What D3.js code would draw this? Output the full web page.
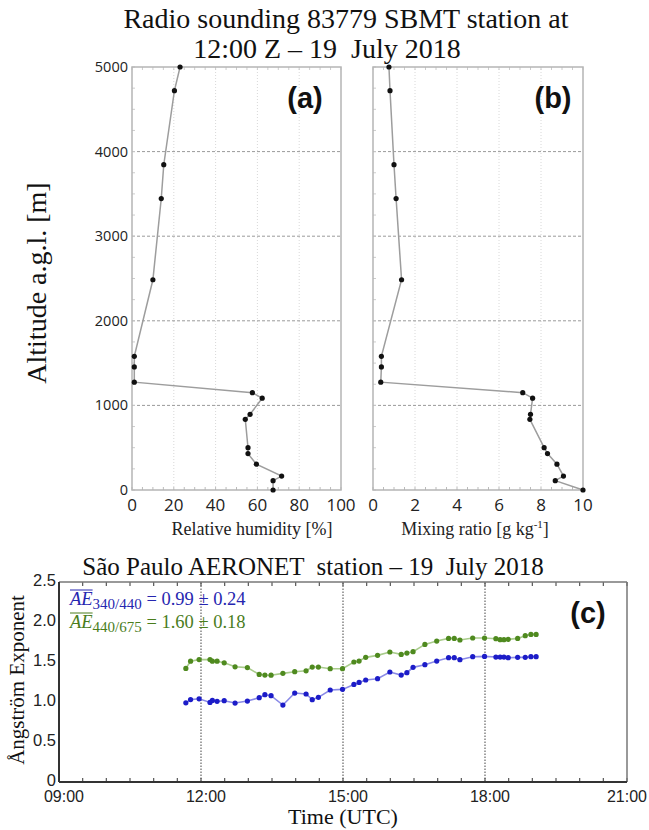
<!DOCTYPE html>
<html><head><meta charset="utf-8">
<script src="https://cdn.jsdelivr.net/npm/d3@7"></script>
<style>
body{margin:0;background:#fff;}
svg{display:block;}
text{white-space:pre;}
</style></head>
<body>
<svg id="c" width="649" height="830"></svg>
<script>
// ---------- DATA ----------
const altitude = [0, 110, 165, 305, 430, 500, 835, 895, 1085, 1150, 1275, 1455, 1580, 2485, 3445, 3845, 4720, 5000];
const relHumidity = [67.5, 67.5, 71.6, 59.5, 55.5, 55.5, 54.2, 56.5, 62.3, 57.6, 1.1, 1.1, 1.1, 10.0, 14.0, 15.2, 20.3, 23.0];
const mixingRatio = [10.0, 8.68, 9.07, 8.76, 8.31, 8.15, 7.47, 7.5, 7.6, 7.13, 0.37, 0.4, 0.4, 1.36, 1.1, 1.0, 0.81, 0.76];
const altTicks = [0, 1000, 2000, 3000, 4000, 5000];
const rhTicks = [0, 20, 40, 60, 80, 100];
const mrTicks = [0, 2, 4, 6, 8, 10];

const timeUTC = [11.68, 11.78, 11.96, 12.19, 12.24, 12.34, 12.49, 12.72, 12.98, 13.23, 13.35, 13.48, 13.73, 13.98, 14.22, 14.35, 14.48, 14.73, 14.99, 15.23, 15.34, 15.48, 15.73, 15.99, 16.23, 16.35, 16.48, 16.73, 16.98, 17.23, 17.35, 17.47, 17.74, 17.99, 18.23, 18.32, 18.40, 18.49, 18.69, 18.85, 18.97, 19.08];
const ae440_675 = [1.42, 1.51, 1.53, 1.53, 1.51, 1.51, 1.49, 1.44, 1.43, 1.345, 1.337, 1.335, 1.358, 1.379, 1.39, 1.437, 1.437, 1.416, 1.416, 1.50, 1.512, 1.558, 1.583, 1.625, 1.595, 1.612, 1.629, 1.72, 1.762, 1.795, 1.795, 1.775, 1.80, 1.80, 1.791, 1.779, 1.779, 1.783, 1.795, 1.829, 1.845, 1.845];
const ae340_440 = [0.99, 1.03, 1.04, 0.995, 1.02, 1.008, 1.016, 0.987, 1.012, 1.054, 1.091, 1.079, 0.962, 1.112, 1.10, 1.029, 1.058, 1.15, 1.158, 1.22, 1.245, 1.275, 1.291, 1.375, 1.337, 1.366, 1.433, 1.466, 1.512, 1.554, 1.554, 1.529, 1.566, 1.57, 1.562, 1.562, 1.562, 1.554, 1.558, 1.558, 1.566, 1.566];
const timeTicks = [9, 12, 15, 18, 21];
const timeTickLabels = ["09:00", "12:00", "15:00", "18:00", "21:00"];
const aeTicks = [0, 0.5, 1.0, 1.5, 2.0, 2.5];
const aeTickLabels = ["0", "0.5", "1.0", "1.5", "2.0", "2.5"];
const meanLabels = [
  {sub: "340/440", txt: " = 0.99 ± 0.24"},
  {sub: "440/675", txt: " = 1.60 ± 0.18"}
];

// ---------- DRAW ----------
const svg = d3.select("#c");
svg.append("rect").attr("width",649).attr("height",830).attr("fill","#fff");
const SANS = "'Open Sans', 'Noto Sans', sans-serif";
const SANS2 = "'Liberation Sans', Arial, sans-serif";
const SERIF = "'Liberation Serif', 'Times New Roman', serif";

svg.append("text").attr("x",346).attr("y",28).attr("text-anchor","middle")
  .attr("font-family",SERIF).attr("font-size",28).attr("fill","#111")
  .text("Radio sounding 83779 SBMT station at");
svg.append("text").attr("x",327).attr("y",58).attr("text-anchor","middle")
  .attr("font-family",SERIF).attr("font-size",28).attr("fill","#111")
  .text("12:00 Z \u2013 19  July 2018");

const yAlt = d3.scaleLinear().domain([0,5000]).range([490,67]);

function profilePanel(xRange, xDomain, xTicks, values, minorStep, label, labelX, showY) {
  const x = d3.scaleLinear().domain(xDomain).range(xRange);
  const g = svg.append("g");
  g.selectAll(".vg").data(xTicks.slice(1,-1)).enter().append("line")
    .attr("x1",d=>x(d)).attr("x2",d=>x(d)).attr("y1",yAlt(0)).attr("y2",yAlt(5000))
    .attr("stroke","#d8d8d8").attr("stroke-width",1).attr("stroke-dasharray","1,2");
  g.selectAll(".hg").data(altTicks.slice(1,-1)).enter().append("line")
    .attr("x1",xRange[0]).attr("x2",xRange[1]).attr("y1",d=>yAlt(d)).attr("y2",d=>yAlt(d))
    .attr("stroke","#9a9a9a").attr("stroke-width",1).attr("stroke-dasharray","3,2");
  const minorX = d3.range(xDomain[0], xDomain[1]+1e-9, minorStep);
  g.selectAll(".mx").data(minorX).enter().append("line")
    .attr("x1",d=>x(d)).attr("x2",d=>x(d)).attr("y1",yAlt(0)).attr("y2",yAlt(0)-3)
    .attr("stroke","#bbb");
  g.selectAll(".mxt").data(minorX).enter().append("line")
    .attr("x1",d=>x(d)).attr("x2",d=>x(d)).attr("y1",yAlt(5000)).attr("y2",yAlt(5000)+3)
    .attr("stroke","#ccc");
  const minorY = d3.range(0, 5001, 250);
  g.selectAll(".my").data(minorY).enter().append("line")
    .attr("x1",xRange[0]).attr("x2",xRange[0]+3).attr("y1",d=>yAlt(d)).attr("y2",d=>yAlt(d))
    .attr("stroke","#ccc");
  g.append("rect").attr("x",xRange[0]).attr("y",yAlt(5000))
    .attr("width",xRange[1]-xRange[0]).attr("height",yAlt(0)-yAlt(5000))
    .attr("fill","none").attr("stroke","#b5b5b5").attr("stroke-width",1.5);
  g.selectAll(".xl").data(xTicks).enter().append("text")
    .attr("x",d=>x(d)).attr("y",511).attr("text-anchor","middle")
    .attr("font-family",SANS).attr("font-size",17).attr("fill","#222")
    .text(d=>d);
  if (showY) {
    g.selectAll(".yl").data(altTicks).enter().append("text")
      .attr("x",xRange[0]-4).attr("y",d=>yAlt(d)+5).attr("text-anchor","end")
      .attr("font-family",SANS).attr("font-size",14.5).attr("fill","#222")
      .text(d=>d);
  }
  const pts = altitude.map((a,i)=>[values[i],a]);
  g.append("path").datum(pts)
    .attr("d", d3.line().x(d=>x(d[0])).y(d=>yAlt(d[1])))
    .attr("fill","none").attr("stroke","#9d9d9d").attr("stroke-width",1.5);
  g.selectAll(".pt").data(pts).enter().append("circle")
    .attr("cx",d=>x(d[0])).attr("cy",d=>yAlt(d[1])).attr("r",2.6).attr("fill","#111");
  g.append("text").attr("x",labelX).attr("y",108).attr("text-anchor","middle")
    .attr("font-family",SANS2).attr("font-weight","bold")
    .attr("font-size",29).attr("fill","#111").text(label);
  return x;
}
profilePanel([132,341],[0,100],rhTicks,relHumidity,5,"(a)",305,true);
profilePanel([373,583],[0,10],mrTicks,mixingRatio,0.5,"(b)",553,false);

svg.append("text").attr("x",252).attr("y",535).attr("text-anchor","middle")
  .attr("font-family",SERIF).attr("font-size",18).attr("fill","#222").text("Relative humidity [%]");
const mt = svg.append("text").attr("x",475).attr("y",535).attr("text-anchor","middle")
  .attr("font-family",SERIF).attr("font-size",18).attr("fill","#222");
mt.append("tspan").text("Mixing ratio [g kg");
mt.append("tspan").attr("font-size",11).attr("dy",-7).text("-1");
mt.append("tspan").attr("dy",7).text("]");
svg.append("text").attr("transform","translate(46,283) rotate(-90)").attr("text-anchor","middle")
  .attr("font-family",SERIF).attr("font-size",28).attr("fill","#111").text("Altitude a.g.l. [m]");

// ---------- Panel c ----------
const xT = d3.scaleLinear().domain([9,21]).range([59,627]);
const yAE = d3.scaleLinear().domain([0,2.5]).range([782,582]);
const gc = svg.append("g");
svg.append("text").attr("x",313).attr("y",575).attr("text-anchor","middle")
  .attr("font-family",SERIF).attr("font-size",25).attr("fill","#111")
  .text("S\u00e3o Paulo AERONET  station \u2013 19  July 2018");

gc.selectAll(".vd").data(timeTicks.slice(1,-1)).enter().append("line")
  .attr("x1",d=>xT(d)).attr("x2",d=>xT(d)).attr("y1",yAE(0)).attr("y2",yAE(2.5))
  .attr("stroke","#444").attr("stroke-width",1).attr("stroke-dasharray","1.5,1.5");
const halfHours = d3.range(9, 21.001, 0.5);
gc.selectAll(".tb").data(halfHours).enter().append("line")
  .attr("x1",d=>xT(d)).attr("x2",d=>xT(d)).attr("y1",yAE(0)).attr("y2",yAE(0)-4)
  .attr("stroke","#555").attr("stroke-width",1.2);
gc.selectAll(".tt").data(halfHours).enter().append("line")
  .attr("x1",d=>xT(d)).attr("x2",d=>xT(d)).attr("y1",yAE(2.5)).attr("y2",yAE(2.5)+4)
  .attr("stroke","#555").attr("stroke-width",1.2);
gc.append("line").attr("x1",xT(9)).attr("x2",xT(21)).attr("y1",yAE(2.5)).attr("y2",yAE(2.5))
  .attr("stroke","#777").attr("stroke-width",1.5);
gc.append("line").attr("x1",xT(21)).attr("x2",xT(21)).attr("y1",yAE(0)).attr("y2",yAE(2.5))
  .attr("stroke","#777").attr("stroke-width",1.5);
gc.append("line").attr("x1",xT(9)).attr("x2",xT(21)).attr("y1",yAE(0)).attr("y2",yAE(0))
  .attr("stroke","#333").attr("stroke-width",2);
gc.append("line").attr("x1",xT(9)).attr("x2",xT(9)).attr("y1",yAE(0)).attr("y2",yAE(2.5))
  .attr("stroke","#333").attr("stroke-width",2);
const nT = timeTicks.length;
gc.selectAll(".xl").data(timeTicks).enter().append("text")
  .attr("x",(d,i)=> i===nT-1 ? 647 : xT(d)+5).attr("y",802)
  .attr("text-anchor",(d,i)=> i===nT-1 ? "end" : "middle")
  .attr("font-family",SANS2).attr("font-size",16).attr("fill","#222")
  .text((d,i)=>timeTickLabels[i]);
gc.selectAll(".yl").data(aeTicks).enter().append("text")
  .attr("x",56).attr("y",d=>yAE(d)+4).attr("text-anchor","end")
  .attr("font-family",SANS2).attr("font-size",16.5).attr("fill","#222")
  .text((d,i)=>aeTickLabels[i]);
svg.append("text").attr("x",343).attr("y",824).attr("text-anchor","middle")
  .attr("font-family",SERIF).attr("font-size",22).attr("fill","#111").text("Time (UTC)");
svg.append("text").attr("transform","translate(24,680) rotate(-90)").attr("text-anchor","middle")
  .attr("font-family",SERIF).attr("font-size",21).attr("fill","#111").text("\u00c5ngstr\u00f6m Exponent");

function series(vals, lineCol, dotCol) {
  const pts = timeUTC.map((t,i)=>[t, vals[i]]);
  gc.append("path").datum(pts).attr("d", d3.line().x(d=>xT(d[0])).y(d=>yAE(d[1])))
    .attr("fill","none").attr("stroke",lineCol).attr("stroke-width",1.6);
  gc.selectAll(null).data(pts).enter().append("circle")
    .attr("cx",d=>xT(d[0])).attr("cy",d=>yAE(d[1])).attr("r",2.6).attr("fill",dotCol);
}
series(ae440_675, "#a9cc8c", "#4f8a1f");
series(ae340_440, "#8a8ae6", "#1c1cc8");

const annCols = ["#2626b0", "#4a7d1c"];
meanLabels.forEach((m,i)=>{
  const y0 = 605 + i*23;
  const t = svg.append("text").attr("x",70).attr("y",y0)
    .attr("font-family",SERIF).attr("font-size",18.5).attr("fill",annCols[i]);
  t.append("tspan").attr("font-style","italic").text("AE");
  t.append("tspan").attr("font-size",15).attr("dy",4).text(m.sub);
  t.append("tspan").attr("dy",-4).text(m.txt);
  const w = t.node().getSubStringLength(0,2);
  svg.append("line").attr("x1",70).attr("x2",70+w).attr("y1",y0-15).attr("y2",y0-15)
    .attr("stroke",annCols[i]).attr("stroke-width",1);
});
svg.append("text").attr("x",588).attr("y",623).attr("text-anchor","middle")
  .attr("font-family",SANS2).attr("font-weight","bold")
  .attr("font-size",29).attr("fill","#111").text("(c)");
</script>
</body></html>
